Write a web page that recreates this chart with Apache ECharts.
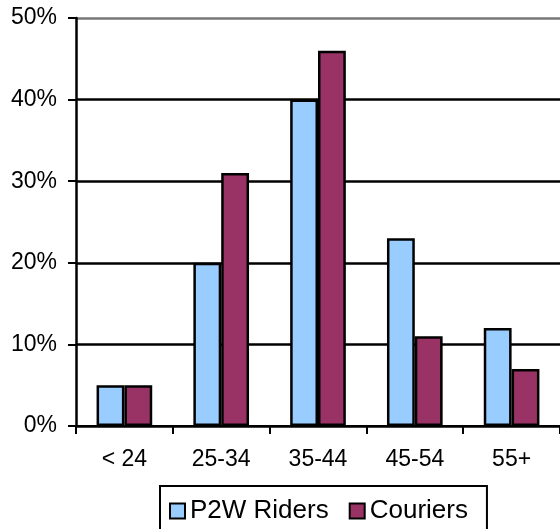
<!DOCTYPE html>
<html>
<head>
<meta charset="utf-8">
<script src="https://cdn.jsdelivr.net/npm/echarts@6/dist/echarts.min.js"></script>
<style>html,body{margin:0;padding:0;background:#fff;}#c{width:560px;height:529px;}</style>
</head>
<body>
<div id="c"></div>
<script>
const categories = ['< 24', '25-34', '35-44', '45-54', '55+'];
const p2wRiders = [5, 20, 40, 23, 12];
const couriers = [5, 31, 46, 11, 7];
const yTicks = { min: 0, max: 50, interval: 10 };

const chart = echarts.init(document.getElementById('c'), null, { renderer: 'canvas' });
const font = 'Arial, "Liberation Sans", sans-serif';
chart.setOption({
  animation: false,
  backgroundColor: '#fff',
  grid: { left: 76, right: -3, top: 18, bottom: 103, containLabel: false },
  legend: {
    data: ['P2W Riders', 'Couriers'],
    left: 160, top: 486,
    padding: [12, 19, 10, 9],
    borderColor: '#000', borderWidth: 2,
    itemWidth: 15, itemHeight: 15, itemGap: 20,
    icon: 'rect',
    textStyle: { fontFamily: font, fontSize: 26, color: '#000' }
  },
  xAxis: {
    type: 'category',
    data: categories,
    axisLine: { lineStyle: { color: '#000', width: 2 } },
    axisTick: { show: true, length: 8, lineStyle: { color: '#000', width: 2 }, alignWithLabel: false },
    axisLabel: { fontFamily: font, fontSize: 23, color: '#000', margin: 22 },
    splitLine: { show: false }
  },
  yAxis: {
    type: 'value',
    min: yTicks.min, max: yTicks.max, interval: yTicks.interval,
    axisLine: { show: true, lineStyle: { color: '#000', width: 2.5 } },
    axisTick: { show: true, length: 8, lineStyle: { color: '#000', width: 2 } },
    axisLabel: { fontFamily: font, fontSize: 23, color: '#000', margin: 19, formatter: '{value}%' },
    splitLine: { show: true, lineStyle: { color: ['#000', '#000', '#000', '#000', '#000', '#777'], width: 2.5 } }
  },
  series: [
    {
      name: 'P2W Riders', type: 'bar', data: p2wRiders,
      barGap: '0%', barCategoryGap: '42.5%',
      itemStyle: { color: '#99CCFF', borderColor: '#000', borderWidth: 2.5 }
    },
    {
      name: 'Couriers', type: 'bar', data: couriers,
      barGap: '0%', barCategoryGap: '42.5%',
      itemStyle: { color: '#993366', borderColor: '#000', borderWidth: 2.5 }
    }
  ]
});
</script>
</body>
</html>
